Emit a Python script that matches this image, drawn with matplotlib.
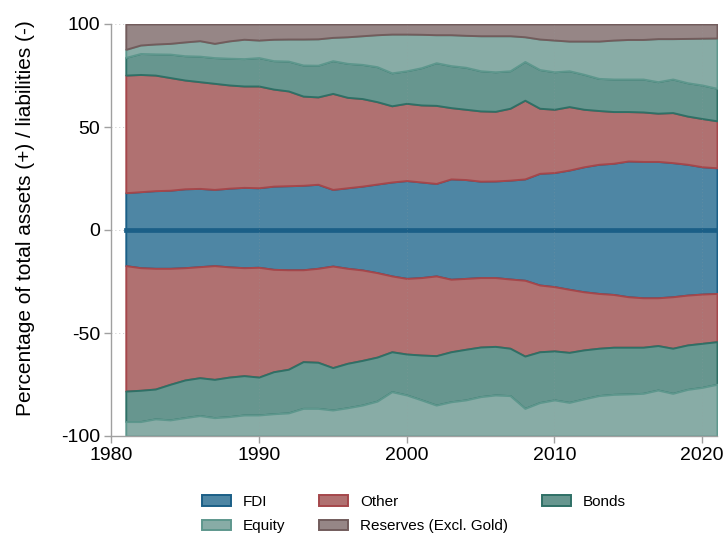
import numpy as np
import matplotlib
matplotlib.use("Agg")
import matplotlib.pyplot as plt
from matplotlib.patches import Patch

plt.rcParams['font.family'] = ['Liberation Sans', 'DejaVu Sans']
plt.rcParams['axes.unicode_minus'] = False

years = list(range(1981, 2022))

# Assets (shares of total assets, %)
assets_fdi = [18.1, 18.6, 19.1, 19.3, 20.0, 20.2, 19.7, 20.3, 20.7, 20.5,
              21.3, 21.5, 21.7, 22.2, 19.7, 20.5, 21.3, 22.3, 23.3, 24.0,
              23.3, 22.6, 24.8, 24.5, 23.7, 23.8, 24.2, 24.8, 27.5, 27.9,
              29.1, 30.7, 31.9, 32.4, 33.5, 33.3, 33.3, 32.7, 31.9, 30.7, 30.2]
assets_other = [57.1, 56.9, 56.1, 54.7, 52.8, 51.8, 51.5, 50.1, 49.2, 49.4,
                47.1, 46.0, 43.3, 42.4, 46.6, 43.9, 42.5, 40.0, 37.0, 37.5,
                37.4, 37.9, 34.6, 34.1, 34.1, 33.8, 34.9, 38.2, 31.6, 30.7,
                30.8, 27.9, 26.1, 25.1, 24.0, 24.0, 23.4, 24.3, 23.4, 23.4, 22.8]
assets_bonds = [8.6, 10.2, 10.3, 11.4, 11.8, 12.4, 12.5, 13.0, 13.3, 13.8,
                13.8, 14.5, 15.1, 15.4, 15.9, 16.5, 16.6, 17.0, 16.0, 15.8,
                18.1, 20.7, 20.4, 20.4, 19.5, 19.2, 18.2, 18.8, 18.8, 18.2,
                17.4, 17.0, 15.6, 15.8, 15.8, 16.0, 15.3, 16.3, 16.2, 16.3, 15.8]
assets_equity = [3.9, 4.1, 4.8, 5.2, 6.7, 7.5, 6.9, 8.4, 9.4, 8.5,
                 10.4, 10.7, 12.6, 12.8, 11.3, 12.9, 13.9, 15.5, 18.8, 17.8,
                 16.2, 13.6, 15.0, 15.5, 17.0, 17.5, 17.0, 12.0, 14.8, 15.4,
                 14.4, 16.1, 18.1, 18.9, 19.2, 19.2, 20.9, 19.6, 21.5, 22.7, 24.4]
assets_reserves = [12.3, 10.2, 9.7, 9.4, 8.7, 8.1, 9.4, 8.2, 7.4, 7.8,
                   7.4, 7.3, 7.3, 7.2, 6.5, 6.2, 5.7, 5.2, 4.9, 4.9,
                   5.0, 5.2, 5.2, 5.5, 5.7, 5.7, 5.7, 6.2, 7.3, 7.8,
                   8.3, 8.3, 8.3, 7.8, 7.5, 7.5, 7.1, 7.1, 7.0, 6.9, 6.8]

# Liabilities (shares of total liabilities, %)
liab_fdi = [17.3, 18.3, 18.6, 18.6, 18.3, 17.8, 17.3, 17.9, 18.3, 18.1,
            19.1, 19.3, 19.3, 18.6, 17.5, 18.6, 19.4, 20.7, 22.3, 23.5,
            23.1, 22.3, 23.9, 23.5, 23.1, 23.1, 23.8, 24.4, 26.7, 27.5,
            28.8, 30.0, 30.8, 31.3, 32.4, 32.9, 32.9, 32.4, 31.6, 31.1, 30.8]
liab_other = [60.9, 59.5, 58.6, 56.3, 54.5, 53.9, 55.2, 53.5, 52.4, 53.3,
              49.7, 48.3, 44.6, 45.6, 49.3, 46.1, 43.9, 41.0, 36.8, 36.7,
              37.6, 38.7, 35.2, 34.4, 33.7, 33.4, 33.6, 36.8, 32.4, 31.2,
              30.6, 28.2, 26.6, 25.6, 24.5, 24.0, 23.2, 25.0, 24.2, 23.9, 23.4]
liab_bonds = [14.8, 15.2, 14.5, 17.3, 18.3, 18.4, 18.6, 19.2, 19.1, 18.4,
              20.4, 21.2, 22.7, 22.4, 20.6, 21.6, 21.7, 21.4, 19.4, 19.9,
              21.8, 24.0, 24.3, 24.6, 24.1, 23.6, 23.0, 25.4, 24.7, 23.8,
              24.3, 23.8, 23.0, 22.9, 22.7, 22.4, 21.6, 21.9, 21.6, 21.4, 20.7]
liab_equity = [7.0, 7.0, 8.3, 7.8, 8.9, 9.9, 8.9, 9.4, 10.2, 10.2,
               10.8, 11.2, 13.4, 13.4, 12.6, 13.7, 15.0, 16.9, 21.5, 19.9,
               17.5, 15.0, 16.6, 17.5, 19.1, 19.9, 19.6, 13.4, 16.2, 17.5,
               16.3, 18.0, 19.6, 20.2, 20.4, 20.7, 22.3, 20.7, 22.6, 23.6, 25.1]

labels = ["FDI", "Other", "Bonds", "Equity", "Reserves (Excl. Gold)"]
fills = ['#4e86a4', '#b07171', '#67968f', '#88aca6', '#968686']
edges = ['#1b5f87', '#a5474b', '#2f7066', '#5e978d', '#725c5c']

fig = plt.figure(figsize=(7.25, 5.38), dpi=100)
ax = fig.add_axes([111/725, 1-436/538, (717-111)/725, (436-24)/538])

x = np.array(years)
asset_layers = [assets_fdi, assets_other, assets_bonds, assets_equity, assets_reserves]
liab_layers = [liab_fdi, liab_other, liab_bonds, liab_equity]

lower = np.zeros(len(years))
for i, layer in enumerate(asset_layers):
    upper = lower + np.array(layer)
    ax.fill_between(x, lower, upper, facecolor=fills[i], edgecolor=edges[i],
                    linewidth=1.4, zorder=2)
    lower = upper

lower = np.zeros(len(years))
for i, layer in enumerate(liab_layers):
    upper = lower - np.array(layer)
    ax.fill_between(x, lower, upper, facecolor=fills[i], edgecolor=edges[i],
                    linewidth=1.4, zorder=2)
    lower = upper

ax.axhline(0, xmin=(1981-1980)/41, xmax=1, color=edges[0], lw=3.4, zorder=3)

ax.set_xlim(1980, 2021)
ax.set_ylim(-100, 100)
ax.set_xticks([1980, 1990, 2000, 2010, 2020])
ax.set_yticks([-100, -50, 0, 50, 100])

for s in ['top', 'right']:
    ax.spines[s].set_visible(False)
for s in ['left', 'bottom']:
    ax.spines[s].set_color('#a0a0a0')
    ax.spines[s].set_linewidth(1.0)
ax.tick_params(axis='both', direction='out', length=5, width=1.0,
               color='#a0a0a0', labelsize=14, labelcolor='black', pad=3)

for yv in [50, 0, -50, 100]:
    ax.axhline(yv, color='#c8c8c8', lw=0.7, ls=(0, (1, 3)), zorder=1)
for xv in [1990, 2000, 2010, 2020]:
    ax.axvline(xv, color='#9aa0a0', lw=0.6, ls=(0, (1, 3)), alpha=0.35, zorder=3)

ax.set_ylabel("Percentage of total assets (+) / liabilities (-)", fontsize=15)
ax.yaxis.set_label_coords(-0.125, 0.53)

handles = [Patch(facecolor=fills[i], edgecolor=edges[i], linewidth=1.4) for i in range(5)]
order = [0, 3, 1, 4, 2]
fig.legend([handles[i] for i in order], [labels[i] for i in order],
           loc='center', bbox_to_anchor=(414/725, 1-514/538), ncol=3,
           frameon=False, fontsize=11, handlelength=1.9, handleheight=0.7,
           handletextpad=0.8, columnspacing=2.2, labelspacing=0.7)

fig.savefig("out.png", dpi=100)
